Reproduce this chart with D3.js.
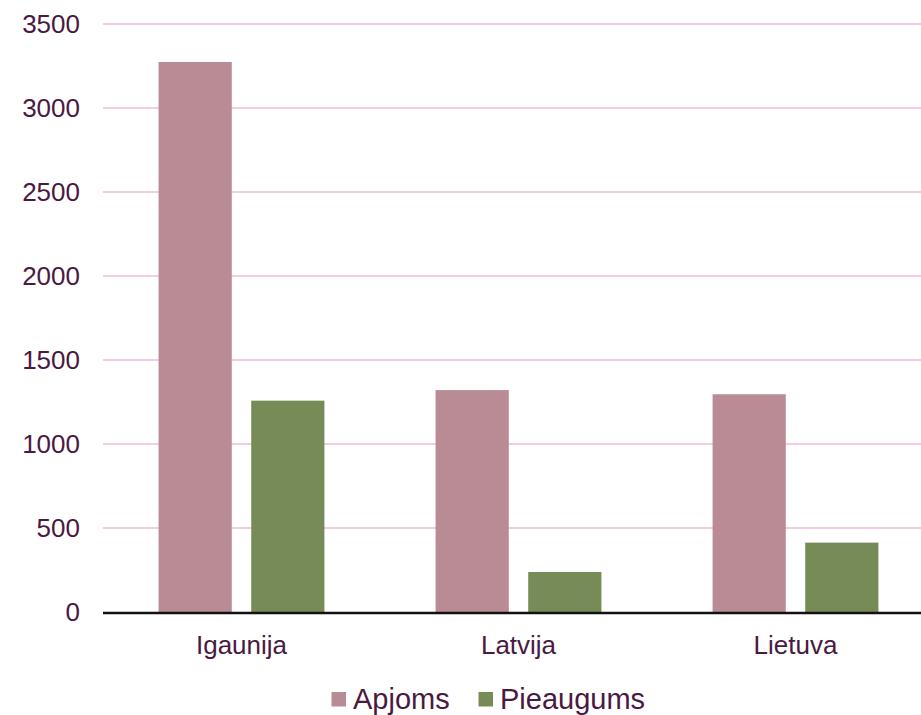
<!DOCTYPE html>
<html><head><meta charset="utf-8">
<script src="https://cdn.jsdelivr.net/npm/d3@7"></script>
<style>body{margin:0;background:#fff;overflow:hidden}svg{display:block}</style>
</head><body>
<script>
const categories = ["Igaunija", "Latvija", "Lietuva"];
const seriesNames = ["Apjoms", "Pieaugums"];
const apjoms = [3274, 1321, 1296];
const pieaugums = [1258, 238, 413];
const yTicks = [0, 500, 1000, 1500, 2000, 2500, 3000, 3500];
const colors = ["#B88B95", "#778B56"];

const W = 921, H = 715;
const textColor = "#4A1942";
const svg = d3.select("body").append("svg").attr("width", W).attr("height", H);

const x0 = d3.scaleBand().domain(categories).range([103, 934]).paddingInner(0).paddingOuter(0);
const x1 = d3.scaleBand().domain(seriesNames).range([0, x0.bandwidth()]).paddingInner(0.21).paddingOuter(0.75 * 0.8);
const y = d3.scaleLinear().domain([0, 3500]).range([612, 24]);

// gridlines
svg.append("g").selectAll("line").data(yTicks.filter(d => d > 0)).join("line")
  .attr("x1", 103).attr("x2", W).attr("y1", d => y(d)).attr("y2", d => y(d))
  .attr("stroke", "#F2CBE5").attr("stroke-width", 2);

// y axis labels
const yAxis = d3.axisLeft(y).tickValues(yTicks).tickSize(0).tickPadding(0).tickFormat(d3.format("d"));
const gy = svg.append("g").attr("transform", "translate(80,0)").call(yAxis);
gy.select(".domain").remove();
gy.selectAll("text").attr("fill", textColor).style("font-family", "Liberation Sans, Arial, sans-serif").style("font-size", "26px");

// bars
const data = categories.map((c, i) => ({cat: c, vals: [apjoms[i], pieaugums[i]]}));
const groups = svg.append("g").selectAll("g").data(data).join("g")
  .attr("transform", d => `translate(${x0(d.cat)},0)`);
groups.selectAll("rect").data(d => d.vals.map((v, j) => ({s: seriesNames[j], v, j}))).join("rect")
  .attr("x", d => x1(d.s)).attr("width", x1.bandwidth())
  .attr("y", d => y(d.v)).attr("height", d => y(0) - y(d.v))
  .attr("fill", d => colors[d.j]);

// x axis
const xAxis = d3.axisBottom(x0).tickSize(0).tickPadding(0);
const gx = svg.append("g").attr("transform", "translate(0,612)").call(xAxis);
gx.select(".domain").remove();
gx.selectAll("text").attr("dy", null).attr("y", 42).attr("fill", textColor)
  .style("font-family", "Liberation Sans, Arial, sans-serif").style("font-size", "26px");
svg.append("line").attr("x1", 103).attr("x2", W).attr("y1", 613).attr("y2", 613)
  .attr("stroke", "#111").attr("stroke-width", 2.5);

// legend
const legendX = [331.5, 478.5];
const lg = svg.append("g").selectAll("g").data(seriesNames).join("g")
  .attr("transform", (d, i) => `translate(${legendX[i]},0)`);
lg.append("rect").attr("x", 0).attr("y", 692).attr("width", 14.5).attr("height", 14.5)
  .attr("fill", (d, i) => colors[i]);
lg.append("text").attr("x", 21.5).attr("y", 709).text(d => d).attr("fill", textColor)
  .style("font-family", "Liberation Sans, Arial, sans-serif").style("font-size", "29px");
</script>
</body></html>
